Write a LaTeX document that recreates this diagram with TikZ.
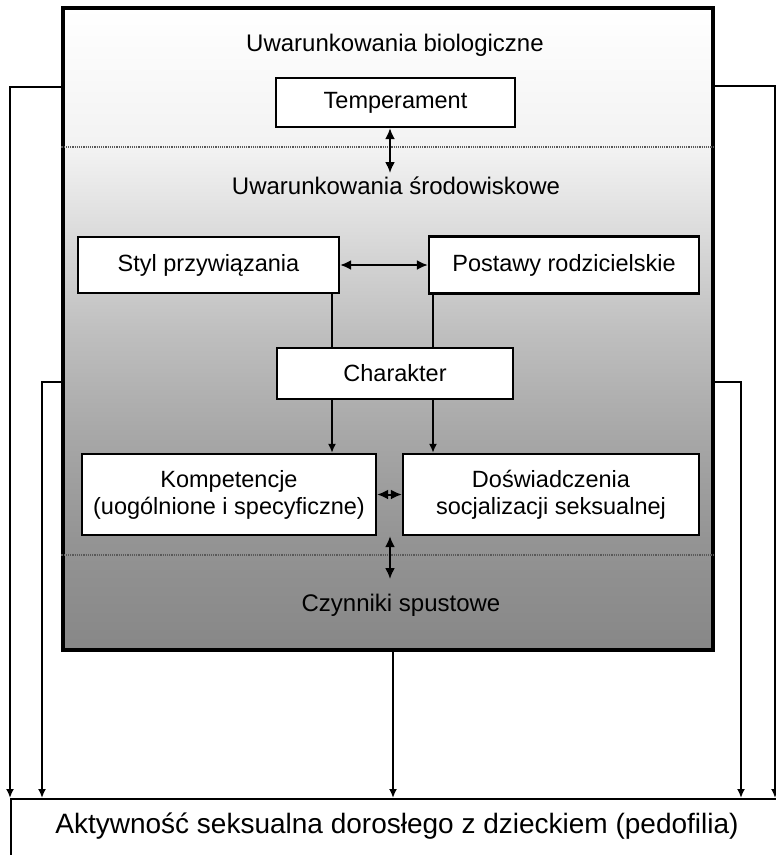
\documentclass[tikz,border=0pt]{standalone}
\usepackage{fontspec}
\setmainfont{Liberation Sans}
\usetikzlibrary{arrows.meta}
\definecolor{g150}{gray}{0.95}
\definecolor{g250}{gray}{0.84}
\definecolor{g330}{gray}{0.75}
\definecolor{g430}{gray}{0.66}
\definecolor{g540}{gray}{0.58}
\definecolor{g650}{gray}{0.53}
\begin{document}
\begin{tikzpicture}[x=1pt,y=-1pt,
  box/.style={draw=black, line width=2.3pt, fill=white, inner sep=0pt,
    font=\fontsize{23.5}{27}\selectfont, align=center},
  lbl/.style={font=\fontsize{24}{28}\selectfont, inner sep=0pt},
  conn/.style={line width=2pt},
  tip/.style={-{Latex[length=9pt,width=8pt]}},
  dtip/.style={{Latex[length=11pt,width=10pt]}-{Latex[length=11pt,width=10pt]}},
  sepline/.style={densely dotted, line width=1.2pt, black!65}
]
\fill[white] (0,0) rectangle (776,855);
\useasboundingbox (0,0) rectangle (776,855);

% background shading of the main panel
\shade[top color=white, bottom color=g150] (63,8) rectangle (713,150);
\shade[top color=g150, bottom color=g250] (63,150) rectangle (713,250);
\shade[top color=g250, bottom color=g330] (63,250) rectangle (713,330);
\shade[top color=g330, bottom color=g430] (63,330) rectangle (713,430);
\shade[top color=g430, bottom color=g540] (63,430) rectangle (713,540);
\shade[top color=g540, bottom color=g650] (63,540) rectangle (713,650);

\node[draw=black, line width=3.2pt, minimum width=650pt, minimum height=642pt, inner sep=0pt] (main) at (388,329) {};

% dotted separators
\draw[sepline] (main.west |- 0,147) -- (main.east |- 0,147);
\draw[sepline] (main.west |- 0,555) -- (main.east |- 0,555);

% labels
\node[lbl] (bio) at (395,45) {Uwarunkowania biologiczne};
\node[lbl] (srod) at (396,186) {Uwarunkowania środowiskowe};
\node[lbl] (czyn) at (401,605) {Czynniki spustowe};

% boxes
\node[box, minimum width=239pt, minimum height=49pt] (temp) at (395.5,102.5) {Temperament};
\node[box, minimum width=261pt, minimum height=56pt] (styl) at (208.5,265) {Styl przywiązania};
\node[box, minimum width=270pt, minimum height=57pt] (post) at (564,265) {Postawy rodzicielskie};
\node[box, minimum width=294pt, minimum height=81pt] (komp) at (229,494.5) {Kompetencje\\(uogólnione i specyficzne)};
\node[box, minimum width=296pt, minimum height=81pt] (dosw) at (551,494.5) {Doświadczenia\\socjalizacji seksualnej};

% helper coordinates
\coordinate (ax) at (390,0);
\coordinate (sx) at (332,0);
\coordinate (px) at (433,0);
\coordinate (srodtop) at (390,173);
\coordinate (czyntop) at (390,579);

% inner connectors
\draw[conn,dtip] (temp.south -| ax) -- (srodtop);
\draw[conn,dtip] (styl.east) -- (post.west);
\draw[conn,tip] (styl.south -| sx) -- (komp.north -| sx);
\draw[conn,tip] (post.south -| px) -- (dosw.north -| px);
\draw[conn,dtip] (komp.east) -- (dosw.west);
\draw[conn,dtip] (komp.south -| ax) -- (czyntop);

\node[box, minimum width=236pt, minimum height=51pt] (char) at (395,373.5) {Charakter};

% bottom box
\begin{scope}
\clip (0,0) rectangle (776,855);
\node[draw=black, line width=2pt, inner sep=0pt, minimum width=790pt, minimum height=90pt, anchor=north west] (bot) at (10,798) {};
\end{scope}
\node[font=\fontsize{28}{32}\selectfont, inner sep=0pt] (bottxt) at (397,826) {Aktywność seksualna dorosłego z dzieckiem (pedofilia)};

% outer connectors
\coordinate (l1) at (10,87);
\coordinate (l2) at (42,382);
\coordinate (r1) at (775,86);
\coordinate (r2) at (741,382);
\coordinate (cx) at (393,0);
\draw[conn,tip] (l1 -| main.west) -- (l1) -- (l1 |- bot.north);
\draw[conn,tip] (l2 -| main.west) -- (l2) -- (l2 |- bot.north);
\draw[conn,tip] (r1 -| main.east) -- (r1) -- (r1 |- bot.north);
\draw[conn,tip] (r2 -| main.east) -- (r2) -- (r2 |- bot.north);
\draw[conn,tip] (main.south -| cx) -- (cx |- bot.north);
\end{tikzpicture}
\end{document}
